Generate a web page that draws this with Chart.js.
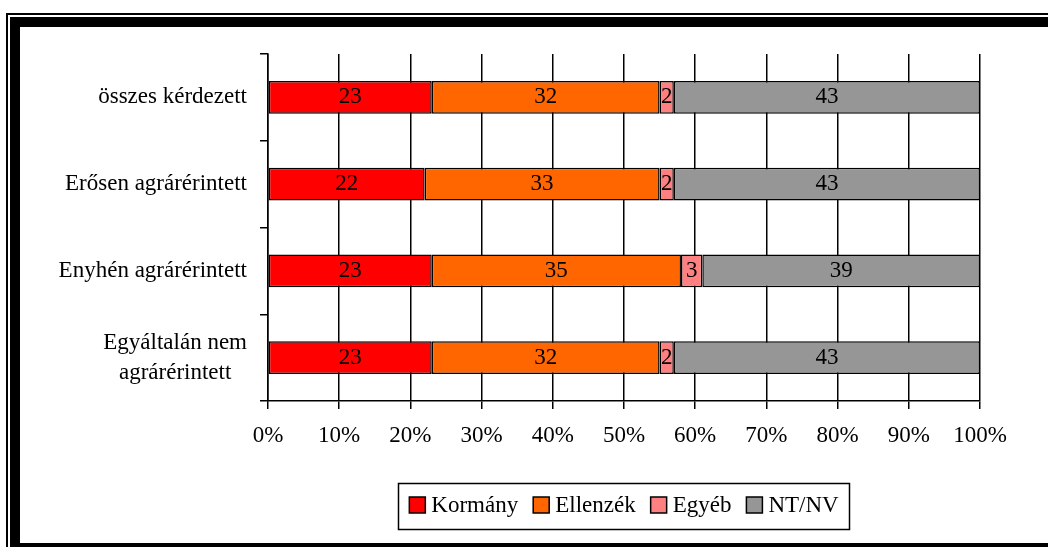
<!DOCTYPE html>
<html>
<head>
<meta charset="utf-8">
<script src="https://cdn.jsdelivr.net/npm/chart.js@4.4.1/dist/chart.umd.min.js"></script>
<style>
  html, body { margin: 0; padding: 0; background: #fff; }
  canvas { display: block; }
</style>
</head>
<body>
<canvas id="c" width="1048" height="547"></canvas>
<script>
// ---- data ----
const categories = [['összes kérdezett'], ['Erősen agrárérintett'], ['Enyhén agrárérintett'], ['Egyáltalán nem', 'agrárérintett']];
const seriesNames = ['Kormány', 'Ellenzék', 'Egyéb', 'NT/NV'];
const kormany  = [23, 22, 23, 23];
const ellenzek = [32, 33, 35, 32];
const egyeb    = [2, 2, 3, 2];
const ntnv     = [43, 43, 39, 43];
const xTickValues = [0, 10, 20, 30, 40, 50, 60, 70, 80, 90, 100];

// ---- styles ----
const FONT = '"Liberation Serif", "Times New Roman", serif';
const FS = 23;
const colors = ['#FF0000', '#FF6600', '#FF8080', '#969696'];
const seriesValues = [kormany, ellenzek, egyeb, ntnv];

const framePlugin = {
  id: 'frame',
  beforeDraw(chart) {
    const ctx = chart.ctx, W = chart.width, H = chart.height;
    ctx.save();
    ctx.fillStyle = '#fff';
    ctx.fillRect(0, 0, W, H);
    ctx.fillStyle = '#000';
    // thin outer line
    ctx.fillRect(6, 13, 2, H - 13);
    ctx.fillRect(6, 13, W - 6, 2);
    // thick inner line
    ctx.fillRect(10, 17, 10, H - 17);
    ctx.fillRect(10, 17, W - 10, 10);
    ctx.fillRect(10, 543, W - 10, 4);
    ctx.restore();
  }
};

const labelsPlugin = {
  id: 'labelsPlugin',
  afterDatasetsDraw(chart) {
    const ctx = chart.ctx;
    ctx.save();
    ctx.font = FS + 'px ' + FONT;
    ctx.fillStyle = '#000';
    ctx.textAlign = 'center';
    ctx.textBaseline = 'middle';
    chart.data.datasets.forEach((ds, di) => {
      const meta = chart.getDatasetMeta(di);
      meta.data.forEach((el, i) => {
        const p = el.getCenterPoint();
        ctx.fillText(String(ds.data[i]), p.x, p.y);
      });
    });
    // category labels
    const ys = chart.scales.y;
    const rightEdge = ys.right - 21;
    const lh = 30;
    categories.forEach((lab, i) => {
      const lines = Array.isArray(lab) ? lab : [lab];
      const w = Math.max(...lines.map(l => ctx.measureText(l).width));
      const cx = rightEdge - w / 2;
      const cy = ys.getPixelForValue(i);
      lines.forEach((l, j) => {
        ctx.fillText(l, cx, cy + (j - (lines.length - 1) / 2) * lh);
      });
    });
    ctx.restore();
  },
  afterDraw(chart) {
    // legend
    const ctx = chart.ctx;
    ctx.save();
    ctx.font = FS + 'px ' + FONT;
    const box = 16, gapT = 6, gapI = 15, padX = 11;
    const widths = seriesNames.map(n => box + gapT + ctx.measureText(n).width);
    const total = widths.reduce((a, b) => a + b, 0) + gapI * (seriesNames.length - 1);
    const ca = chart.chartArea;
    const cx = (ca.left + ca.right) / 2;
    const bx = cx - total / 2 - padX;
    const bw = total + padX * 2;
    ctx.lineWidth = 1.5;
    ctx.strokeStyle = '#000';
    ctx.strokeRect(Math.round(bx) + 0.5, 483.5, Math.round(bw), 46);
    let x = cx - total / 2;
    const cy = 505;
    ctx.textAlign = 'left';
    ctx.textBaseline = 'middle';
    seriesNames.forEach((n, i) => {
      ctx.fillStyle = colors[i];
      ctx.fillRect(x, cy - 8, box, box);
      ctx.lineWidth = 1.5;
      ctx.strokeRect(x, cy - 8, box, box);
      ctx.fillStyle = '#000';
      ctx.fillText(n, x + box + gapT, cy + 1);
      x += widths[i] + gapI;
    });
    ctx.restore();
  }
};

new Chart(document.getElementById('c'), {
  type: 'bar',
  data: {
    labels: categories.map(c => c.join(' ')),
    datasets: seriesNames.map((n, i) => ({
      label: n,
      data: seriesValues[i],
      backgroundColor: colors[i],
      borderColor: '#000',
      borderWidth: 1.5,
      borderSkipped: false,
      barPercentage: 0.38,
      categoryPercentage: 1.0
    }))
  },
  options: {
    indexAxis: 'y',
    responsive: false,
    animation: false,
    layout: { padding: { left: 0, top: 54, right: 68, bottom: 86 } },
    plugins: { legend: { display: false }, tooltip: { enabled: false } },
    scales: {
      x: {
        stacked: true,
        min: 0, max: 100,
        afterBuildTicks(scale) { scale.ticks = xTickValues.map(v => ({ value: v })); },
        afterFit(scale) { scale.height = 60; },
        grid: { color: '#000', lineWidth: 1.5, tickLength: 8, drawOnChartArea: true },
        border: { display: true, color: '#000', width: 1.5 },
        ticks: {
          color: '#000',
          font: { family: FONT, size: FS },
          padding: 13,
          maxRotation: 0,
          callback: v => v + '%'
        }
      },
      y: {
        stacked: true,
        offset: true,
        afterFit(scale) { scale.width = 268; },
        grid: { color: '#000', lineWidth: 1.5, tickLength: 8, drawOnChartArea: false, offset: true },
        border: { display: true, color: '#000', width: 1.5 },
        ticks: { display: false }
      }
    }
  },
  plugins: [framePlugin, labelsPlugin]
});
</script>
</body>
</html>
